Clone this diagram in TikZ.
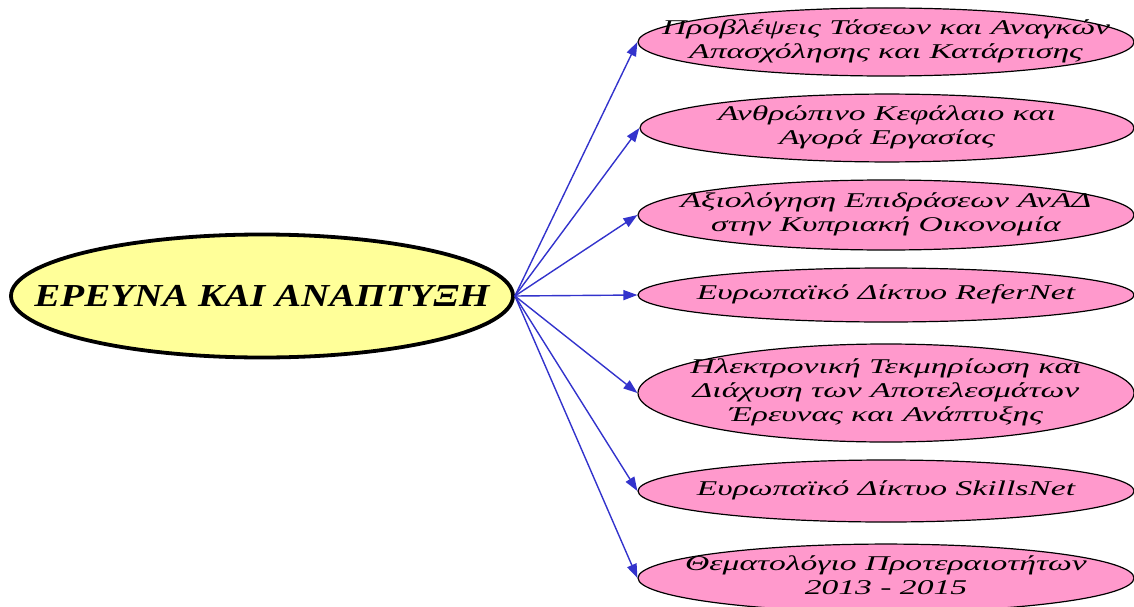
\documentclass[tikz,border=0pt]{standalone}
\usepackage{fontspec}
\setmainfont{Liberation Serif}
\newfontfamily\pinkfont{Liberation Serif}[FakeStretch=1.6]
\newfontfamily\mainfont{Liberation Serif}[FakeStretch=1.22]
\usetikzlibrary{shapes.geometric,arrows.meta}
\definecolor{yel}{HTML}{FFFF99}
\definecolor{pnk}{HTML}{FF99CC}
\definecolor{arr}{HTML}{3333CC}
\newcommand{\ptext}[1]{\makebox[0pt]{\begin{tabular}{@{}c@{}}#1\end{tabular}}}
\tikzset{
  x=1pt,y=1pt,
  centre/.style={ellipse,draw=black,line width=3.8pt,fill=yel,inner sep=0pt,
    font=\mainfont\bfseries\itshape\fontsize{32}{36}\selectfont},
  pinkbox/.style={ellipse,draw=black,line width=1.2pt,fill=pnk,inner sep=0pt,
    minimum width=496pt,
    font=\pinkfont\itshape\fontsize{21}{24}\selectfont},
  link/.style={draw=arr,line width=1.4pt,-{Triangle[length=14pt,width=10pt]}}
}
\begin{document}
\begin{tikzpicture}
\useasboundingbox (0,0) rectangle (1134,-607);
\node[centre,minimum width=502pt,minimum height=123pt] (c) at (262,-296) {\makebox[0pt]{ΕΡΕΥΝΑ ΚΑΙ ΑΝΑΠΤΥΞΗ}};
\node[pinkbox,minimum height=68pt] (p1) at (886,-42) {\ptext{Προβλέψεις Τάσεων και Αναγκών\\Απασχόλησης και Κατάρτισης}};
\node[pinkbox,minimum height=58pt,minimum width=494pt] (p2) at (887,-128) {\ptext{Ανθρώπινο Κεφάλαιο και\\Αγορά Εργασίας}};
\node[pinkbox,minimum height=70pt] (p3) at (886,-215) {\ptext{Αξιολόγηση Επιδράσεων ΑνΑΔ\\στην Κυπριακή Οικονομία}};
\node[pinkbox,minimum height=54pt] (p4) at (886,-295) {\ptext{Ευρωπαϊκό Δίκτυο ReferNet}};
\node[pinkbox,minimum height=98pt,inner ysep=-2.5pt] (p5) at (886,-393) {\ptext{Ηλεκτρονική Τεκμηρίωση και\\Διάχυση των Αποτελεσμάτων\\Έρευνας και Ανάπτυξης}};
\node[pinkbox,minimum height=62pt] (p6) at (886,-491) {\ptext{Ευρωπαϊκό Δίκτυο SkillsNet}};
\node[pinkbox,minimum height=62pt] (p7) at (886,-578) {\ptext{Θεματολόγιο Προτεραιοτήτων\\2013 - 2015}};
\foreach \n in {p1,p2,p3,p4,p5,p6,p7}
  \draw[link] (c.east) -- (\n.west);
\end{tikzpicture}
\end{document}
